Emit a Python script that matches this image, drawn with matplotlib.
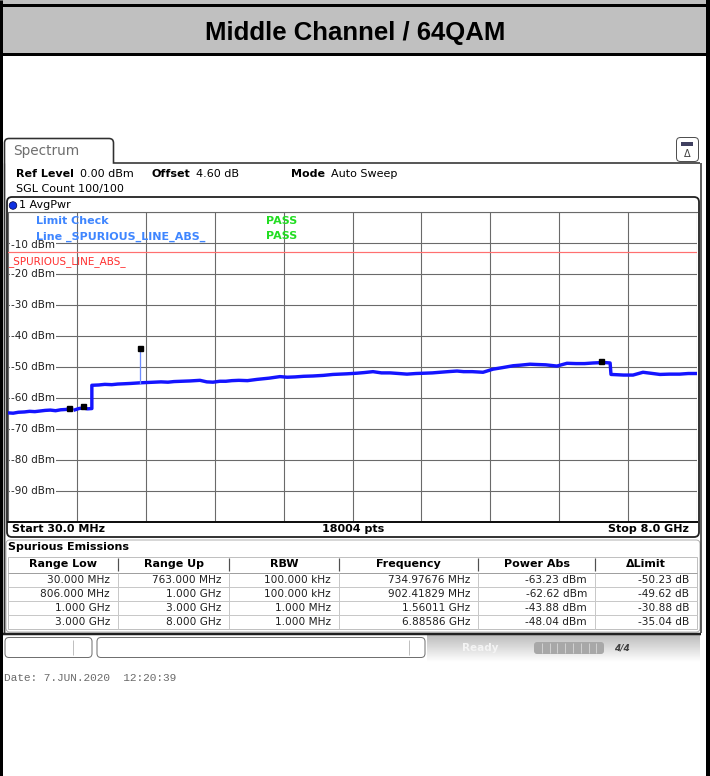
import matplotlib
matplotlib.use("Agg")
import matplotlib.pyplot as plt
from matplotlib.patches import FancyBboxPatch, Rectangle, Circle, PathPatch
from matplotlib.path import Path
import numpy as np

# ---------------- data ----------------
TITLE = "Middle Channel / 64QAM"

start_mhz = 30.0
stop_mhz = 8000.0
ref_level_dbm = 0.0
bottom_dbm = -100.0
limit_dbm = -13.0

# trace segment 1: 30 MHz .. 763 MHz
seg1_freq_mhz = [30, 90, 150, 220, 280, 340, 400, 460, 520, 580, 640, 700, 735, 763]
seg1_dbm = [-64.8, -64.9, -64.6, -64.5, -64.3, -64.4, -64.2, -64.0, -63.9, -64.1, -63.8, -63.7, -63.5, -63.6]

# trace segment 2: 806 MHz .. 8 GHz (step at 1 GHz)
seg2_freq_mhz = [806, 850, 902, 950, 1000, 1000, 1080, 1150, 1230, 1300, 1380, 1450, 1560,
                 1640, 1720, 1800, 1880, 1950, 2040, 2135, 2250, 2330, 2401, 2480, 2550,
                 2620, 2700, 2800, 2910, 3050, 3176, 3260, 3350, 3450, 3558, 3680, 3789,
                 3950, 4067, 4150, 4252, 4350, 4450, 4550, 4645, 4750, 4850, 4940, 5027,
                 5120, 5224, 5300, 5400, 5525, 5640, 5750, 5872, 5960, 6068, 6150, 6250,
                 6380, 6496, 6600, 6700, 6800, 6878, 6950, 6995, 7005, 7080, 7150, 7260,
                 7375, 7460, 7572, 7680, 7800, 7900, 8000]
seg2_dbm = [-63.8, -63.4, -63.2, -63.5, -63.4, -55.9, -55.8, -55.6, -55.7, -55.5, -55.4, -55.3, -55.1,
            -55.0, -54.9, -54.8, -54.9, -54.7, -54.6, -54.5, -54.3, -54.8, -54.9, -54.6, -54.6,
            -54.4, -54.3, -54.4, -54.0, -53.6, -53.1, -53.3, -53.2, -53.0, -52.9, -52.7, -52.4,
            -52.2, -52.0, -51.8, -51.5, -51.9, -51.9, -52.1, -52.3, -52.1, -52.0, -51.9, -51.7,
            -51.5, -51.3, -51.5, -51.5, -51.7, -50.7, -50.2, -49.6, -49.4, -49.1, -49.2, -49.3,
            -49.7, -48.8, -48.9, -48.9, -48.7, -48.6, -48.6, -48.7, -52.4, -52.5, -52.6, -52.6,
            -51.7, -52.0, -52.4, -52.3, -52.3, -52.1, -52.1]

# markers (peak per range) and the spike at 1.56 GHz
marker_freq_mhz = [734.97676, 902.41829, 1560.11, 6885.86]
marker_dbm = [-63.23, -62.62, -43.88, -48.04]
spike_freq_mhz = 1560.11
spike_base_dbm = -55.1
spike_top_dbm = -43.88

level_ticks = [-10, -20, -30, -40, -50, -60, -70, -80, -90]
level_labels = ["-10 dBm", "-20 dBm", "-30 dBm", "-40 dBm", "-50 dBm",
                "-60 dBm", "-70 dBm", "-80 dBm", "-90 dBm"]

table_header = ["Range Low", "Range Up", "RBW", "Frequency", "Power Abs", "\u0394Limit"]
range_low = ["30.000 MHz", "806.000 MHz", "1.000 GHz", "3.000 GHz"]
range_up = ["763.000 MHz", "1.000 GHz", "3.000 GHz", "8.000 GHz"]
rbw = ["100.000 kHz", "100.000 kHz", "1.000 MHz", "1.000 MHz"]
peak_freq = ["734.97676 MHz", "902.41829 MHz", "1.56011 GHz", "6.88586 GHz"]
power_abs_dbm = [-63.23, -62.62, -43.88, -48.04]
delta_limit_db = [-50.23, -49.62, -30.88, -35.04]

# ---------------- figure ----------------
W, H = 710, 776
fig = plt.figure(figsize=(W / 100, H / 100), dpi=100)
fig.patch.set_facecolor("white")

cv = fig.add_axes([0, 0, 1, 1])
cv.set_xlim(0, W)
cv.set_ylim(H, 0)
cv.axis("off")

PX = 0.72  # 1 px in points

def hline(x0, x1, y, color="black", lw=1, z=2):
    cv.plot([x0, x1], [y, y], color=color, lw=lw * PX, zorder=z, solid_capstyle="butt")

def vline(x, y0, y1, color="black", lw=1, z=2):
    cv.plot([x, x], [y0, y1], color=color, lw=lw * PX, zorder=z, solid_capstyle="butt")

# title band
cv.add_patch(Rectangle((0, 0), W, 54, facecolor="#c0c0c0", edgecolor="none", zorder=1))
hline(0, W, 5, lw=3)
hline(0, W, 53.5, lw=3)
cv.text(355, 33, TITLE, ha="center", va="center", fontsize=18.5,
        family="Liberation Sans", weight="bold", color="black", zorder=3)
# image side borders
vline(1, 0, H, lw=3)
vline(707.5, 0, H, lw=4)

# spectrum tab + outer frame
verts = [(4.5, 633), (4.5, 143), (4.5, 138.5), (9, 138.5), (109, 138.5), (113.5, 138.5),
         (113.5, 143), (113.5, 163), (700, 163)]
codes = [Path.MOVETO, Path.LINETO, Path.CURVE3, Path.CURVE3, Path.LINETO, Path.CURVE3,
         Path.CURVE3, Path.LINETO, Path.LINETO]
cv.add_patch(PathPatch(Path(verts, codes), facecolor="none", edgecolor="#303030",
                       lw=1.6 * PX, zorder=2))
vline(3.5, 163, 633, color="#303030", lw=1.2)
vline(700.5, 163, 633, color="#303030", lw=1.5)
hline(3, 701, 633.5, color="#202020", lw=2.5)
cv.text(13, 151, "Spectrum", ha="left", va="center", fontsize=9.8, color="#6e6e6e", zorder=3)

# icon top right
cv.add_patch(FancyBboxPatch((676.5, 137.5), 22, 24, boxstyle="round,pad=0,rounding_size=4",
                            facecolor="white", edgecolor="#505050", lw=1 * PX, zorder=2))
cv.add_patch(Rectangle((681, 142), 12, 4, facecolor="#404060", edgecolor="none", zorder=3))
cv.text(687.5, 154, "\u0394", ha="center", va="center", fontsize=7, color="#404040", zorder=3)

# header texts
fs = 8
cv.text(16, 174, "Ref Level", fontsize=fs, weight="bold", va="center", zorder=3)
cv.text(80, 174, "0.00 dBm", fontsize=fs, va="center", zorder=3)
cv.text(151, 174, "Offset", fontsize=fs, weight="bold", va="center", zorder=3)
cv.text(196, 174, "4.60 dB", fontsize=fs, va="center", zorder=3)
cv.text(291, 174, "Mode", fontsize=fs, weight="bold", va="center", zorder=3)
cv.text(331, 174, "Auto Sweep", fontsize=fs, va="center", zorder=3)
cv.text(16, 189, "SGL Count 100/100", fontsize=fs, va="center", zorder=3)

# plot frame
cv.add_patch(FancyBboxPatch((7, 197), 692, 340, boxstyle="round,pad=0,rounding_size=5",
                            facecolor="white", edgecolor="#202020", lw=1.8 * PX, zorder=1.5))
cv.add_patch(Circle((13, 205.5), 3.8, facecolor="#1030e0", edgecolor="#000040",
                    lw=0.5, zorder=3))
cv.text(19, 205.5, "1 AvgPwr", fontsize=fs, va="center", zorder=3)
cv.text(12, 529, "Start 30.0 MHz", fontsize=fs, weight="bold", va="center", zorder=3)
cv.text(353, 529, "18004 pts", fontsize=fs, weight="bold", va="center", ha="center", zorder=3)
cv.text(689, 529, "Stop 8.0 GHz", fontsize=fs, weight="bold", va="center", ha="right", zorder=3)

# ---------------- spectrum axes ----------------
ax_l, ax_r, ax_t, ax_b = 8, 697, 212, 522
ax = fig.add_axes([ax_l / W, 1 - ax_b / H, (ax_r - ax_l) / W, (ax_b - ax_t) / H])
ax.patch.set_facecolor("none")
ax.set_xlim(start_mhz, stop_mhz)
ax.set_ylim(bottom_dbm, ref_level_dbm)
span = stop_mhz - start_mhz
ax.set_xticks([start_mhz + span * k / 10 for k in range(11)])
ax.set_yticks(np.arange(bottom_dbm, ref_level_dbm + 1, 10))
ax.grid(True, color="#6a6a6a", lw=1.1 * PX, zorder=1)
ax.tick_params(length=0, labelbottom=False, labelleft=False)
for s in ("left", "right"):
    ax.spines[s].set_visible(False)
ax.spines["top"].set_color("#6a6a6a")
ax.spines["top"].set_linewidth(1.1 * PX)
ax.spines["bottom"].set_color("#101010")
ax.spines["bottom"].set_linewidth(2 * PX)

ytr = ax.get_yaxis_transform()
for lv, lb in zip(level_ticks, level_labels):
    ax.text(0.004, lv - (0.6 if lv == -10 else 0), lb, transform=ytr, fontsize=7.5,
            va="center", ha="left", color="#202020",
            bbox=dict(facecolor="white", edgecolor="none", pad=0.6), zorder=4)

# limit line
ax.axhline(limit_dbm, color="#ff7070", lw=1.2 * PX, zorder=3)
ax.text(0.0, limit_dbm - 3, "_SPURIOUS_LINE_ABS_", transform=ytr, fontsize=7.5, color="#ff3030",
        va="center", ha="left", zorder=4)

# limit check text
blue_txt = "#3f86ff"
green_txt = "#22dd22"
ax.text(28 / 689, -2.9, "Limit Check", transform=ytr, fontsize=8, weight="bold",
        color=blue_txt, va="center", zorder=5)
ax.text(28 / 689, -7.9, "Line _SPURIOUS_LINE_ABS_", transform=ytr, fontsize=8, weight="bold",
        color=blue_txt, va="center", zorder=5)
ax.text(258 / 689, -2.9, "PASS", transform=ytr, fontsize=8, weight="bold",
        color=green_txt, va="center", zorder=5)
ax.text(258 / 689, -7.9, "PASS", transform=ytr, fontsize=8, weight="bold",
        color=green_txt, va="center", zorder=5)

# trace
trace_col = "#1414ff"
ax.plot(seg1_freq_mhz, seg1_dbm, color=trace_col, lw=3.4 * PX, zorder=6, solid_joinstyle="round")
ax.plot(seg2_freq_mhz, seg2_dbm, color=trace_col, lw=3.4 * PX, zorder=6, solid_joinstyle="round")
ax.plot([spike_freq_mhz, spike_freq_mhz], [spike_base_dbm, spike_top_dbm],
        color="#6d8cff", lw=1.3 * PX, zorder=6)
ax.plot(marker_freq_mhz, marker_dbm, linestyle="none", marker="s", markersize=3.6,
        color="black", zorder=7)

# ---------------- spurious emissions table ----------------
cv.add_patch(FancyBboxPatch((6, 540), 694, 92, boxstyle="round,pad=0,rounding_size=4",
                            facecolor="white", edgecolor="#b0b0b0", lw=1 * PX, zorder=1.5))
cv.text(8, 547.5, "Spurious Emissions", fontsize=fs, weight="bold", va="center", zorder=3)

col_edges = [8, 118, 229, 339, 478, 595, 697]
hdr_y = 564
row_ys = [580, 594, 608, 622]
cv.add_patch(Rectangle((col_edges[0], 556.5), col_edges[-1] - col_edges[0], 72.5,
                       facecolor="white", edgecolor="#c0c0c0", lw=1 * PX, zorder=2))
hline(col_edges[0], col_edges[-1], 572.5, color="#a0a0a0", lw=1)
for y in (587, 601, 615):
    hline(col_edges[0], col_edges[-1], y, color="#c8c8c8", lw=1)
for xe in col_edges[1:-1]:
    vline(xe, 558, 571, color="#505050", lw=1.2, z=3)
    vline(xe, 573, 629, color="#c8c8c8", lw=1, z=3)
for i, h in enumerate(table_header):
    cx = (col_edges[i] + col_edges[i + 1]) / 2
    cv.text(cx, hdr_y, h, fontsize=fs, weight="bold", ha="center", va="center", zorder=4)

rows = list(zip(range_low, range_up, rbw, peak_freq,
                [f"{v:.2f} dBm" for v in power_abs_dbm],
                [f"{v:.2f} dB" for v in delta_limit_db]))
for r, y in zip(rows, row_ys):
    for i, val in enumerate(r):
        cv.text(col_edges[i + 1] - 8, y, val, fontsize=7.6,
                ha="right", va="center", color="#202020", zorder=4)

# ---------------- status bar ----------------
cv.add_patch(FancyBboxPatch((5, 637.5), 87, 20, boxstyle="round,pad=0,rounding_size=4",
                            facecolor="white", edgecolor="#707070", lw=1 * PX, zorder=2))
vline(73, 640, 655, color="#c0c0c0", lw=1)
cv.add_patch(FancyBboxPatch((97, 637.5), 328, 20, boxstyle="round,pad=0,rounding_size=4",
                            facecolor="white", edgecolor="#707070", lw=1 * PX, zorder=2))
vline(409, 640, 655, color="#c0c0c0", lw=1)
grad = np.linspace(0.74, 1.0, 50).reshape(-1, 1)
cv.imshow(np.repeat(grad, 2, axis=1), cmap="gray", vmin=0, vmax=1, aspect="auto",
          extent=(427, 700, 662, 635), zorder=1.2)
cv.text(480, 648, "Ready", fontsize=7.5, color="#f4f4f4", weight="bold", ha="center",
        va="center", zorder=3)
cv.add_patch(FancyBboxPatch((534, 642), 70, 12, boxstyle="round,pad=0,rounding_size=3",
                            facecolor="#a8a8a8", edgecolor="none", zorder=2))
for k in range(1, 9):
    vline(534 + k * 7.8, 643, 653, color="#d0d0d0", lw=1, z=3)
cv.text(622, 648, "4/4", fontsize=6.5, color="#404040", weight="bold", ha="center",
        va="center", style="italic", zorder=3)

# date
cv.text(4, 678, "Date: 7.JUN.2020  12:20:39", fontsize=8, family="Liberation Mono",
        color="#6a6a6a", va="center", ha="left", zorder=3)

fig.savefig("out.png", dpi=100)
